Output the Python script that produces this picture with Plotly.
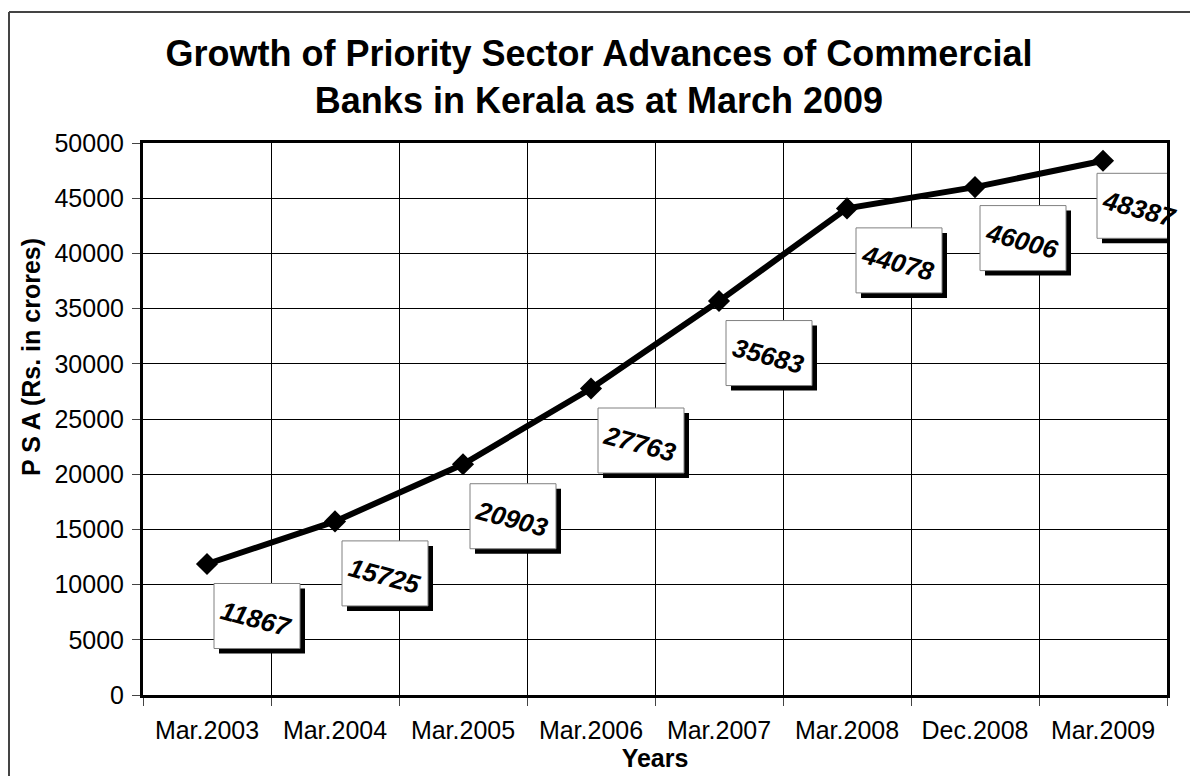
import plotly.graph_objects as go

categories = ["Mar.2003", "Mar.2004", "Mar.2005", "Mar.2006", "Mar.2007",
              "Mar.2008", "Dec.2008", "Mar.2009"]
psa_values = [11867, 15725, 20903, 27763, 35683, 44078, 46006, 48387]
y_ticks = list(range(0, 50001, 5000))

# label box offsets (pixels, right / down from the point)
label_dx = [50, 50, 50, 50, 50, 52, 48, 37]
label_dy = [52, 52, 52, 52, 52, 52, 51, 45]
BOX_W, BOX_H, SHADOW = 86, 65, 5

FONT = "Liberation Sans, Arial, sans-serif"

# page has an 8px body margin; figure sized to fit the window
W, H = 1190, 768
PL, PT, PR, PB = 143, 143, 1167, 695   # plot area in page pixels
OFF = 8

fig = go.Figure()
fig.add_trace(go.Scatter(
    x=categories, y=psa_values, mode="lines+markers",
    line=dict(color="black", width=6),
    marker=dict(symbol="diamond", size=17, color="black"),
    showlegend=False, hoverinfo="x+y",
))

shapes = []
annotations = []
for i, v in enumerate(psa_values):
    dx, dy = label_dx[i], label_dy[i]
    shapes.append(dict(
        type="rect", xref="x", yref="y", xsizemode="pixel", ysizemode="pixel",
        xanchor=i, yanchor=v,
        x0=dx - BOX_W / 2 + SHADOW, x1=dx + BOX_W / 2 + SHADOW,
        y0=-(dy + BOX_H / 2) - SHADOW, y1=-(dy - BOX_H / 2) - SHADOW,
        fillcolor="black", line=dict(width=0), layer="above",
    ))
    shapes.append(dict(
        type="rect", xref="x", yref="y", xsizemode="pixel", ysizemode="pixel",
        xanchor=i, yanchor=v,
        x0=dx - BOX_W / 2, x1=dx + BOX_W / 2,
        y0=-(dy + BOX_H / 2), y1=-(dy - BOX_H / 2),
        fillcolor="white", line=dict(color="#808080", width=1), layer="above",
    ))
    annotations.append(dict(
        x=i, y=v, xref="x", yref="y", text=f"{v}", showarrow=False,
        xshift=dx - 1, yshift=-dy - 3, textangle=15,
        font=dict(family=FONT, size=26, color="black", weight="bold", style="italic"),
    ))

pw, ph = PR - PL, PB - PT
# outer frame of the chart (top and left edges visible)
fx0 = (9 - PL) / pw
fy1 = (PB - 12) / ph
shapes.append(dict(type="line", xref="paper", yref="paper",
                   x0=fx0, x1=1.2, y0=fy1, y1=fy1,
                   line=dict(color="#444444", width=2), layer="below"))
shapes.append(dict(type="line", xref="paper", yref="paper",
                   x0=fx0, x1=fx0, y0=-0.3, y1=fy1,
                   line=dict(color="#444444", width=2), layer="below"))

# y axis title
annotations.append(dict(
    x=(31 - PL) / pw, y=(PB - 357) / ph, xref="paper", yref="paper",
    xanchor="center", yanchor="middle",
    text="P S A (Rs. in crores)", textangle=-90, showarrow=False,
    font=dict(family=FONT, size=25, color="black", weight="bold"),
))

fig.update_layout(
    width=W, height=H,
    margin=dict(l=PL - OFF, r=W - (PR - OFF), t=PT - OFF, b=H - (PB - OFF)),
    paper_bgcolor="white", plot_bgcolor="white",
    font=dict(family=FONT, size=25, color="black"),
    title=dict(
        text="Growth of Priority Sector Advances of Commercial<br>Banks in Kerala as at March 2009",
        x=(599 - OFF) / W, xref="container", xanchor="center",
        y=1 - (66 - OFF) / H, yref="container", yanchor="top",
        font=dict(family=FONT, size=36, color="black", weight="bold"),
    ),
    shapes=shapes,
    annotations=annotations,
)

fig.update_xaxes(
    type="category", tickson="boundaries",
    showgrid=True, gridcolor="black", gridwidth=1,
    showline=True, linecolor="black", linewidth=3, mirror=True,
    ticks="outside", ticklen=8, tickcolor="#444444", tickwidth=1,
    ticklabelstandoff=11,
    tickfont=dict(family=FONT, size=25, color="black"),
    title=dict(text="Years", standoff=3,
               font=dict(family=FONT, size=25, color="black", weight="bold")),
    range=[-0.5, len(categories) - 0.5],
)
fig.update_yaxes(
    range=[0, 50000], tickvals=y_ticks, ticktext=[str(t) for t in y_ticks],
    showgrid=True, gridcolor="black", gridwidth=1,
    showline=True, linecolor="black", linewidth=3, mirror=True,
    ticks="outside", ticklen=8, tickcolor="#444444", tickwidth=1,
    ticklabelstandoff=3,
    tickfont=dict(family=FONT, size=25, color="black"),
    zeroline=False,
)

fig.write_html("out.html")
